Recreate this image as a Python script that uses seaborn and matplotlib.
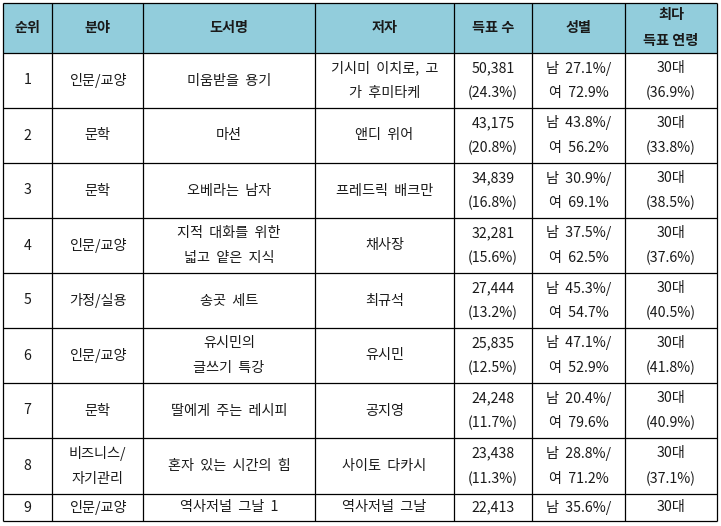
import seaborn as sns
import matplotlib.pyplot as plt
from matplotlib.patches import Rectangle

# table contents
headers = ['순위', '분야', '도서명', '저자', '득표 수', '성별', '최다\n득표 연령']
ranks = [1, 2, 3, 4, 5, 6, 7, 8, 9]
categories = ['인문/교양', '문학', '문학', '인문/교양', '가정/실용', '인문/교양', '문학',
              '비즈니스/\n자기관리', '인문/교양']
titles = ['미움받을  용기', '마션', '오베라는  남자', '지적  대화를  위한\n넓고  얕은  지식',
          '송곳  세트', '유시민의\n글쓰기  특강', '딸에게  주는  레시피',
          '혼자  있는  시간의  힘', '역사저널  그날  1']
authors = ['기시미  이치로,  고\n가  후미타케', '앤디  위어', '프레드릭  배크만', '채사장',
           '최규석', '유시민', '공지영', '사이토  다카시', '역사저널  그날']
votes = [50381, 43175, 34839, 32281, 27444, 25835, 24248, 23438, 22413]
vote_share = [24.3, 20.8, 16.8, 15.6, 13.2, 12.5, 11.7, 11.3, None]
male_pct = [27.1, 43.8, 30.9, 37.5, 45.3, 47.1, 20.4, 28.8, 35.6]
female_pct = [72.9, 56.2, 69.1, 62.5, 54.7, 52.9, 79.6, 71.2, None]
top_age = ['30대'] * 9
age_share = [36.9, 33.8, 38.5, 37.6, 40.5, 41.8, 40.9, 37.1, None]

# layout (pixels)
col_edges = [3, 52, 143, 315, 454, 532, 625, 717]
row_edges = [3, 53, 108, 163, 218, 273, 328, 383, 438, 494, 521]
line_gap = 25
header_color = '#92cddc'

sns.set_theme(style='white')
plt.rcParams['font.family'] = ['Noto Sans CJK KR', 'DejaVu Sans']

fig = plt.figure(figsize=(7.21, 5.26), dpi=100)
ax = fig.add_axes([0, 0, 1, 1])
ax.set_xlim(0, 721)
ax.set_ylim(526, 0)
ax.axis('off')


def cell_text(col, row, text, **kw):
    xc = (col_edges[col] + col_edges[col + 1]) / 2
    yc = (row_edges[row] + row_edges[row + 1]) / 2
    lines = text.split('\n')
    n = len(lines)
    for i, ln in enumerate(lines):
        y = yc + (i - (n - 1) / 2) * line_gap
        ax.text(xc, y, ln, ha='center', va='center', fontsize=10.2, color='#1a1a1a', **kw)


ax.add_patch(Rectangle((col_edges[0], row_edges[0]), col_edges[-1] - col_edges[0],
                       row_edges[1] - row_edges[0], facecolor=header_color, edgecolor='none'))

for c, h in enumerate(headers):
    cell_text(c, 0, h, fontweight='bold')

for r in range(len(ranks)):
    vtxt = f'{votes[r]:,}'
    if vote_share[r] is not None:
        vtxt += f'\n({vote_share[r]:.1f}%)'
    gtxt = f'남  {male_pct[r]:.1f}%/'
    if female_pct[r] is not None:
        gtxt += f'\n여  {female_pct[r]:.1f}%'
    atxt = top_age[r]
    if age_share[r] is not None:
        atxt += f'\n({age_share[r]:.1f}%)'
    row_vals = [str(ranks[r]), categories[r], titles[r], authors[r], vtxt, gtxt, atxt]
    for c, t in enumerate(row_vals):
        cell_text(c, r + 1, t)

ax.hlines(row_edges, col_edges[0], col_edges[-1], colors='black', linewidth=0.9)
ax.vlines(col_edges, row_edges[0], row_edges[-1], colors='black', linewidth=0.9)

fig.savefig('out.png', dpi=100, facecolor='white')
